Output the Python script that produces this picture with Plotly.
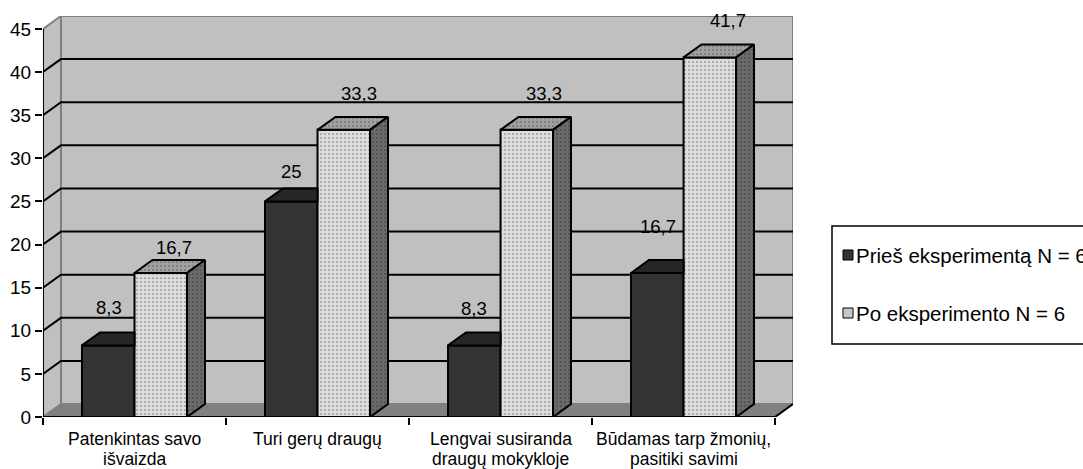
import plotly.graph_objects as go

# ---------------- data ----------------
categories = ["Patenkintas savo\nišvaizda", "Turi gerų draugų",
              "Lengvai susiranda\ndraugų mokykloje", "Būdamas tarp žmonių,\npasitiki savimi"]
series_names = ["Prieš eksperimentą N = 6", "Po eksperimento N = 6"]
before_vals = [8.3, 25, 8.3, 16.7]
after_vals = [16.7, 33.3, 33.3, 41.7]
y_ticks = [0, 5, 10, 15, 20, 25, 30, 35, 40, 45]

# ---------------- style ----------------
FONT = "Arial, 'Liberation Sans', sans-serif"
FS_TICK = 19
FS_CAT = 17.5
FS_LAB = 18.5
FS_LEG = 20.5
W = 0.287          # bar width (category units)
DX, DY = 0.098, 1.5  # 3-D depth offset in axis units
YMAX = 45
XL, XR = -0.5, len(categories) - 0.5
WALL = "#C0C0C0"
WALL_EDGE = "#808080"
FLOOR = "#808080"
DARK = "#333333"
DARK_TOP = "#262626"
LIGHT = "#DCDCDC"
LIGHT_TOP = "#A0A0A0"
LIGHT_SIDE = "#6A6A6A"
LW = 2
# label placement tweaks (pixels): (xshift, lift above front top)
dark_label_off = [(1, 38), (0, 30), (0, 37), (1, 46)]
light_label_off = [(13, 25), (15, 36), (17, 36), (18, 37)]

xs = list(range(len(categories)))

fig = go.Figure()

# front faces (bars)
fig.add_trace(go.Bar(x=xs, y=before_vals, offset=-W, width=W, name=series_names[0],
                     marker=dict(color=DARK, line=dict(color="black", width=LW)),
                     showlegend=False, hoverinfo="skip"))
fig.add_trace(go.Bar(x=xs, y=after_vals, offset=0, width=W, name=series_names[1],
                     marker=dict(color=LIGHT, line=dict(color="black", width=LW),
                                 pattern=dict(shape=".", bgcolor=LIGHT, fgcolor="#222222",
                                              size=4, solidity=0.15)),
                     showlegend=False, hoverinfo="skip"))


def poly_trace(polys, fill, pattern=None):
    px, py = [], []
    for pts in polys:
        for (a, b) in pts:
            px.append(a)
            py.append(b)
        px.append(pts[0][0])
        py.append(pts[0][1])
        px.append(None)
        py.append(None)
    kw = dict(x=px, y=py, mode="lines", fill="toself", fillcolor=fill,
              line=dict(color="black", width=LW), showlegend=False, hoverinfo="skip")
    if pattern:
        kw["fillpattern"] = pattern
    return go.Scatter(**kw)


# dark top faces (cut where the lighter bar stands in front)
dark_tops = []
for x, v in zip(xs, before_vals):
    x0, x1 = x - W, x
    dark_tops.append([(x0, v), (x1, v), (x1, v + DY), (x0 + DX, v + DY)])
fig.add_trace(poly_trace(dark_tops, DARK_TOP))

# light top & side faces
pat_top = dict(shape=".", bgcolor=LIGHT_TOP, fgcolor="#222222", size=4, solidity=0.15)
pat_side = dict(shape=".", bgcolor=LIGHT_SIDE, fgcolor="#111111", size=4, solidity=0.15)
light_tops, light_sides = [], []
for x, v in zip(xs, after_vals):
    x0, x1 = x, x + W
    light_tops.append([(x0, v), (x1, v), (x1 + DX, v + DY), (x0 + DX, v + DY)])
    light_sides.append([(x1, 0), (x1, v), (x1 + DX, v + DY), (x1 + DX, DY)])
fig.add_trace(poly_trace(light_tops, LIGHT_TOP, pat_top))
fig.add_trace(poly_trace(light_sides, LIGHT_SIDE, pat_side))

# ---------------- walls, floor, gridlines ----------------
shapes = []
shapes.append(dict(type="rect", xref="x", yref="y", x0=XL + DX, x1=XR + DX, y0=DY, y1=YMAX + DY,
                   fillcolor=WALL, line=dict(color=WALL_EDGE, width=2), layer="below"))
shapes.append(dict(type="path", xref="x", yref="y",
                   path=f"M {XL},0 L {XL},{YMAX} L {XL+DX},{YMAX+DY} L {XL+DX},{DY} Z",
                   fillcolor=WALL, line=dict(color=WALL_EDGE, width=2), layer="below"))
shapes.append(dict(type="path", xref="x", yref="y",
                   path=f"M {XL},0 L {XR},0 L {XR+DX},{DY} L {XL+DX},{DY} Z",
                   fillcolor=FLOOR, line=dict(width=0), layer="below"))
for t in y_ticks[1:-1]:
    shapes.append(dict(type="path", xref="x", yref="y",
                       path=f"M {XL},{t} L {XL+DX},{t+DY} L {XR+DX},{t+DY}",
                       line=dict(color="black", width=2), layer="below"))
# floor right edge, x axis line, y axis line
shapes.append(dict(type="line", xref="x", yref="y", x0=XR, y0=0, x1=XR + DX, y1=DY,
                   line=dict(color="black", width=2)))
shapes.append(dict(type="line", xref="x", yref="y", x0=XL, y0=0, x1=XR, y1=0,
                   line=dict(color="black", width=2)))
shapes.append(dict(type="line", xref="x", yref="y", x0=XL, y0=0, x1=XL, y1=YMAX,
                   line=dict(color="black", width=2)))

# ---------------- annotations ----------------
ann = []
for i, (x, v) in enumerate(zip(xs, before_vals)):
    ann.append(dict(x=x - W / 2, y=v, xref="x", yref="y", text=f"{v:g}".replace(".", ","),
                    showarrow=False, xshift=dark_label_off[i][0], yshift=dark_label_off[i][1],
                    font=dict(size=FS_LAB, color="black", family=FONT)))
for i, (x, v) in enumerate(zip(xs, after_vals)):
    ann.append(dict(x=x + W / 2, y=v, xref="x", yref="y", text=f"{v:g}".replace(".", ","),
                    showarrow=False, xshift=light_label_off[i][0], yshift=light_label_off[i][1],
                    font=dict(size=FS_LAB, color="black", family=FONT)))
for x, lab in zip(xs, categories):
    for j, line in enumerate(lab.split("\n")):
        ann.append(dict(x=x, y=0, xref="x", yref="y", text=line, showarrow=False,
                        yanchor="middle", yshift=-22 - 20 * j,
                        font=dict(size=FS_CAT, color="black", family=FONT)))

# ---------------- manual legend ----------------
PL, PR, PT, PB = 43, 290, 16, 52
PW, PH = 1083 - PL - PR, 469 - PT - PB


def pxx(p):
    return (p - PL) / PW


def pxy(p):
    return (469 - PB - p) / PH


shapes.append(dict(type="rect", xref="paper", yref="paper", x0=pxx(832), x1=pxx(1100),
                   y0=pxy(344), y1=pxy(226), fillcolor="white",
                   line=dict(color="black", width=1.5)))
leg_y = [255, 313]
leg_fill = [DARK, "#C8C8C8"]
for name, yy, fc in zip(series_names, leg_y, leg_fill):
    shapes.append(dict(type="rect", xref="paper", yref="paper", x0=pxx(843), x1=pxx(853),
                       y0=pxy(yy + 5), y1=pxy(yy - 5), fillcolor=fc,
                       line=dict(color="black", width=1)))
    ann.append(dict(x=pxx(854), y=pxy(yy), xref="paper", yref="paper", text=name,
                    showarrow=False, xanchor="left", yanchor="middle",
                    font=dict(size=FS_LEG, color="black", family=FONT)))

fig.update_layout(
    width=1083, height=469,
    margin=dict(l=PL, r=PR, t=PT, b=PB, autoexpand=False),
    paper_bgcolor="white", plot_bgcolor="white",
    barmode="overlay", showlegend=False,
    shapes=shapes, annotations=ann,
    font=dict(family=FONT, size=FS_TICK, color="black"),
    xaxis=dict(range=[XL, XR + DX], tickmode="array",
               tickvals=[XL + k for k in range(len(categories) + 1)],
               showticklabels=False, ticks="outside", ticklen=7, tickwidth=2,
               tickcolor="black", showgrid=False, zeroline=False, showline=False,
               fixedrange=True),
    yaxis=dict(range=[0, YMAX + DY], tickmode="array", tickvals=y_ticks,
               ticks="outside", ticklen=7, tickwidth=2, tickcolor="black",
               tickfont=dict(size=FS_TICK, color="black", family=FONT),
               showgrid=False, zeroline=False, showline=False, fixedrange=True),
)

fig.write_html("out.html", config={"displayModeBar": False})
